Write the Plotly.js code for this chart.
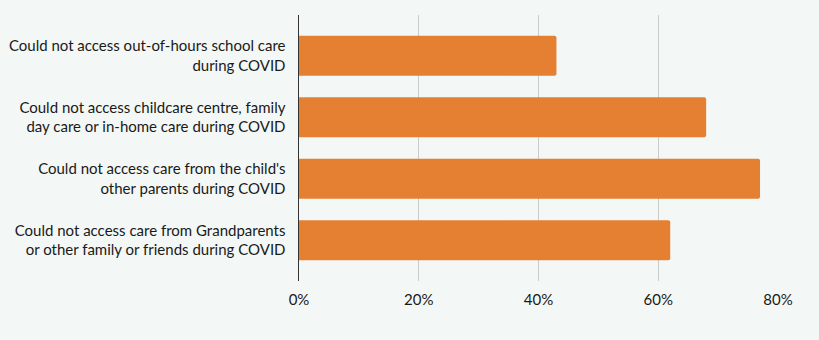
<!DOCTYPE html>
<html>
<head>
<meta charset="utf-8">
<script src="https://cdn.plot.ly/plotly-3.0.1.min.js"></script>
<style>html,body{margin:0;padding:0;background:#F3F8F6;}</style>
</head>
<body>
<div id="chart" style="width:819px;height:340px;"></div>
<script>
const categories = [
  "Could not access out-of-hours school care<br>during COVID",
  "Could not access childcare centre, family<br>day care or in-home care during COVID",
  "Could not access care from the child's<br>other parents during COVID",
  "Could not access care from Grandparents<br>or other family or friends during COVID"
];
const values = [43, 68, 77, 62];
const tickValues = [0, 20, 40, 60, 80];
const tickLabels = ["0%", "20%", "40%", "60%", "80%"];

const fontFam = "Lato, 'Open Sans', sans-serif";
const labelFont = {family: fontFam, size: 15, color: "#1a1a1a"};

Plotly.newPlot("chart", [{
  type: "bar",
  orientation: "h",
  x: values,
  y: categories,
  marker: {color: "#E58033", cornerradius: 2},
  hoverinfo: "none"
}], {
  width: 819, height: 340,
  paper_bgcolor: "#F3F8F6",
  plot_bgcolor: "#F3F8F6",
  margin: {l: 299, r: 41, t: 15, b: 59},
  bargap: 0.35,
  showlegend: false,
  font: labelFont,
  xaxis: {
    range: [0, 80],
    tickvals: tickValues,
    ticktext: tickLabels,
    showgrid: true,
    gridcolor: "#C9CCCB",
    gridwidth: 1,
    zeroline: false,
    showline: false,
    ticks: "",
    ticklabelstandoff: 8,
    tickfont: labelFont,
    fixedrange: true
  },
  yaxis: {
    type: "category",
    categoryorder: "array",
    categoryarray: categories,
    range: [3.66, -0.66],
    showline: true,
    linecolor: "#333",
    linewidth: 1.5,
    showgrid: false,
    zeroline: false,
    ticks: "",
    ticklabelstandoff: 9,
    tickfont: labelFont,
    automargin: false,
    fixedrange: true
  }
}, {displayModeBar: false, staticPlot: true});
</script>
</body>
</html>
